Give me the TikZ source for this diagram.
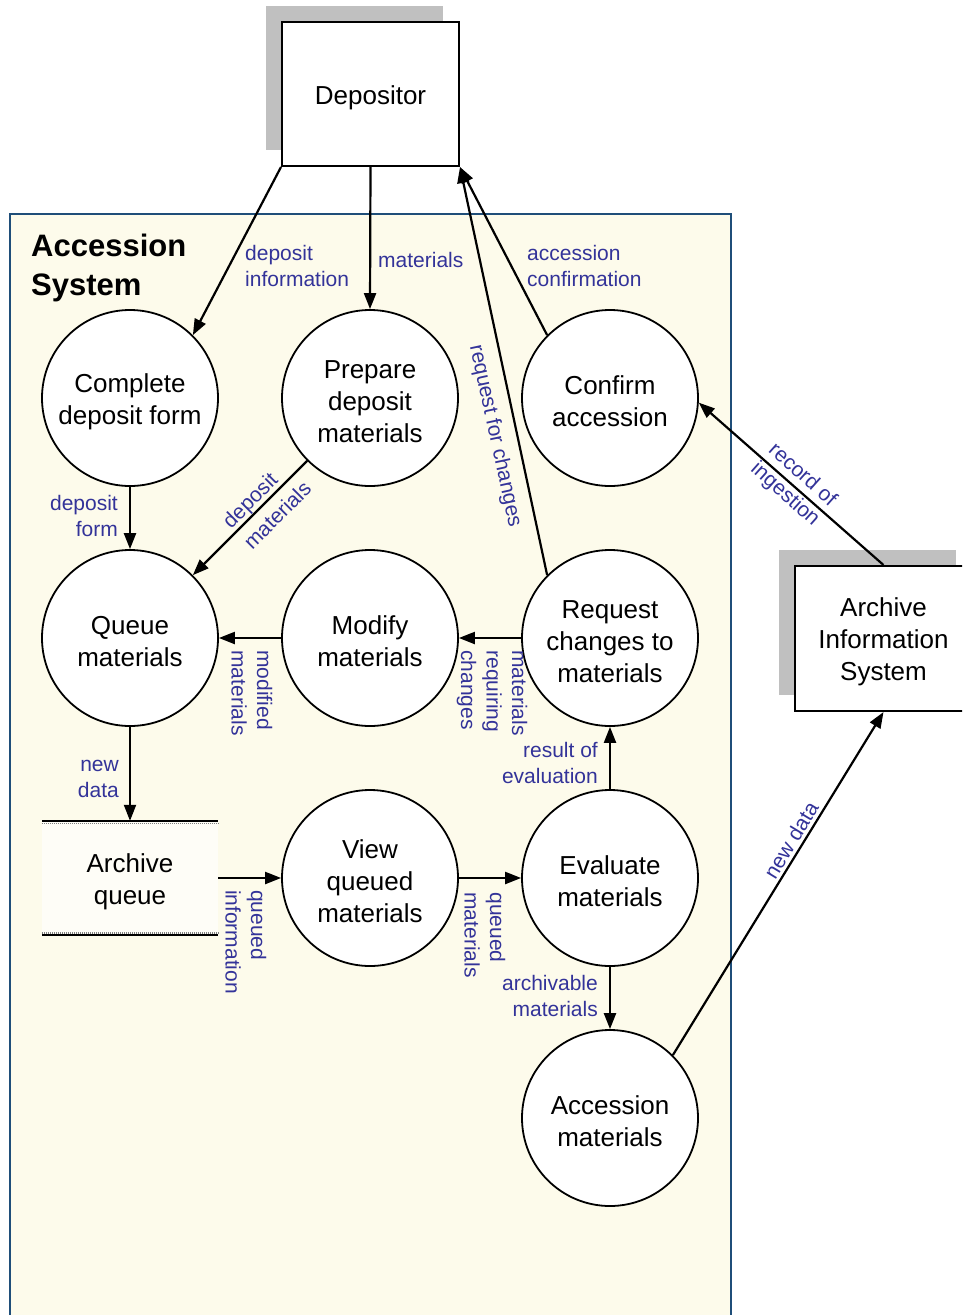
\documentclass[tikz,border=0pt]{standalone}
\usepackage{fontspec}
\setmainfont{Liberation Sans}
\usetikzlibrary{arrows.meta,calc}
\definecolor{panelfill}{HTML}{FDFBEB}
\definecolor{panelline}{HTML}{1F4E79}
\definecolor{flowtext}{HTML}{333399}
\definecolor{shadowgray}{HTML}{C0C0C0}
% taller first line so the block of text sits a little lower in its shape
\newcommand{\procstrut}{\rule{0pt}{26pt}}
\begin{document}
\begin{tikzpicture}[x=1pt,y=1pt,
  bigtext/.style={font=\fontsize{26}{32}\selectfont},
  process/.style={circle,draw,line width=1.8pt,fill=white,minimum size=176pt,
    inner sep=0pt,align=center,bigtext},
  entity/.style={rectangle,draw,line width=2pt,fill=white,inner sep=0pt,
    align=center,bigtext},
  store/.style={rectangle,fill=white!60!panelfill,inner sep=0pt,
    minimum width=176pt,minimum height=114pt,align=center,bigtext},
  flow/.style={line width=2.2pt,-{Triangle[length=16pt,width=12pt]}},
  lbl/.style={inner sep=0pt,text=flowtext,font=\fontsize{21}{25.5}\selectfont},
]
\useasboundingbox (0,0) rectangle (962,-1315);
\clip (0,0) rectangle (962,-1315);

% system boundary
\draw[panelline,line width=1.5pt,fill=panelfill] (10,-214) rectangle (731,-1340);
\node[anchor=west,align=left,inner sep=0pt,
  font=\bfseries\fontsize{31}{39}\selectfont] (title) at (31,-268) {Accession\\System};

% external entities with their shadows
\fill[shadowgray] (266,-6) rectangle (443,-150);
\node[entity,minimum width=177pt,minimum height=144pt] (depositor) at (370.5,-94)
  {\procstrut Depositor};
\fill[shadowgray] (779,-550) rectangle (956,-695);
\node[entity,minimum width=177pt,minimum height=145pt] (ais) at (883.5,-638.5)
  {\procstrut Archive\\Information\\System};

% processes
\node[process] (complete)  at (130,-398)  {\procstrut Complete\\deposit form};
\node[process] (prepare)   at (370,-398)  {\procstrut Prepare\\deposit\\materials};
\node[process] (confirm)   at (610,-398)  {\procstrut Confirm\\accession};
\node[process] (queue)     at (130,-638)  {\procstrut Queue\\materials};
\node[process] (modify)    at (370,-638)  {\procstrut Modify\\materials};
\node[process] (request)   at (610,-638)  {\procstrut Request\\changes to\\materials};
\node[process] (view)      at (370,-878)  {\procstrut View\\queued\\materials};
\node[process] (evaluate)  at (610,-878)  {\procstrut Evaluate\\materials};
\node[process] (accession) at (610,-1118) {\procstrut Accession\\materials};

% data store
\node[store] (aq) at (130,-878) {\procstrut Archive\\queue};
\draw[line width=2pt] (aq.north west) -- (aq.north east);
\draw[line width=2pt] (aq.south west) -- (aq.south east);
\draw[gray,line width=1.6pt,dash pattern=on 1pt off 1pt]
  ([yshift=-2.5pt]aq.north west) -- ([yshift=-2.5pt]aq.north east);
\draw[gray,line width=1.6pt,dash pattern=on 1pt off 1pt]
  ([yshift=2.5pt]aq.south west) -- ([yshift=2.5pt]aq.south east);

% data flows
\draw[flow] (depositor.south west) -- (complete.45);
\draw[flow] (depositor.south) -- (prepare.north);
\draw[flow] (confirm.135) -- (depositor.south east);
\draw[flow] (request.135) -- (depositor.south east);
\draw[flow] (complete.south) -- (queue.north);
\draw[flow] (prepare.225) -- (queue.45);
\draw[flow] (modify.west) -- (queue.east);
\draw[flow] (request.west) -- (modify.east);
\draw[flow] (queue.south) -- (aq.north);
\draw[flow] (aq.east) -- (view.west);
\draw[flow] (view.east) -- (evaluate.west);
\draw[flow] (evaluate.north) -- (request.south);
\draw[flow] (evaluate.south) -- (accession.north);
\draw[flow] (accession.45) -- (ais.south);
\draw[flow] (ais.north) -- (confirm.-3);

% flow labels
\node[lbl,anchor=west,align=left] (l-depinfo) at (245,-266) {deposit\\information};
\node[lbl,anchor=west] (l-materials) at (378,-260) {materials};
\node[lbl,anchor=west,align=left] (l-accconf) at (527,-266) {accession\\confirmation};
\node[lbl,anchor=east,align=right] (l-depform) at (118,-516) {deposit\\form};
\node[lbl,anchor=east,align=right] (l-newdata) at (119,-779) {new\\data};
\node[lbl,anchor=east,align=right] (l-result) at (598,-763) {result of\\evaluation};
\node[lbl,anchor=east,align=right] (l-archivable) at (598,-996) {archivable\\materials};
\node[lbl,rotate=-90,align=left] (l-modified) at (252,-693) {modified\\materials};
\node[lbl,rotate=-90,align=left] (l-requiring) at (492,-693) {materials\\requiring\\changes};
\node[lbl,rotate=-90,align=left] (l-qinfo) at (246,-942) {queued\\information};
\node[lbl,rotate=-90,align=left] (l-qmat) at (485,-935) {queued\\materials};
\node[lbl,rotate=-77.7] (l-reqchg) at (495,-436) {request for changes};
\node[lbl,rotate=45,align=left,font=\fontsize{21}{30}\selectfont] (l-depmat) at (266.5,-504.5) {deposit\\materials};
\node[lbl,rotate=-41.7,align=center,font=\fontsize{21}{26}\selectfont] (l-record) at (793.5,-485) {record of\\ingestion};
\node[lbl,rotate=58.7] (l-newdata2) at (791,-840) {new data};
\end{tikzpicture}
\end{document}
